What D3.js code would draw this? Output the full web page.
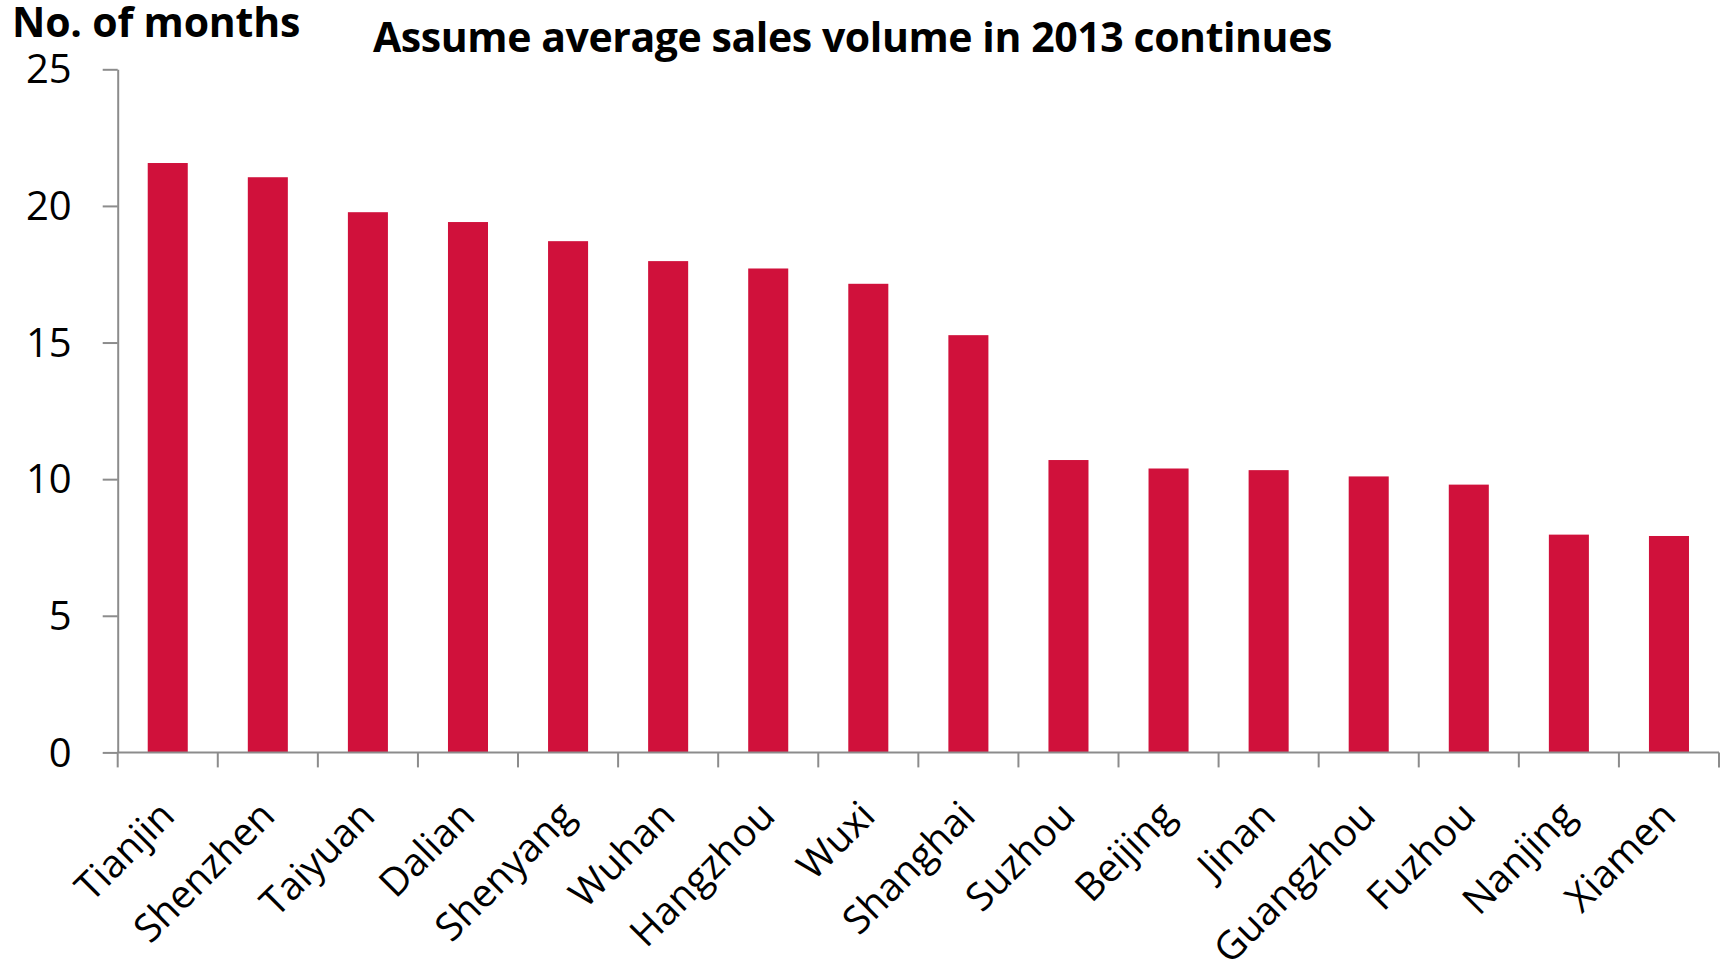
<!DOCTYPE html>
<html>
<head>
<meta charset="utf-8">
<script src="https://cdn.jsdelivr.net/npm/d3@7"></script>
<style>
  html, body { margin: 0; padding: 0; background: #fff; }
  svg { display: block; }
  text { font-family: "Open Sans", "Noto Sans", sans-serif; fill: #000; }
</style>
</head>
<body>
<svg id="chart" width="1725" height="963"></svg>
<script>
// Months of unsold housing stock per city at the 2013 average sales pace
const cities = ["Tianjin", "Shenzhen", "Taiyuan", "Dalian", "Shenyang", "Wuhan",
  "Hangzhou", "Wuxi", "Shanghai", "Suzhou", "Beijing", "Jinan",
  "Guangzhou", "Fuzhou", "Nanjing", "Xiamen"];
const months = [21.57, 21.05, 19.77, 19.41, 18.71, 17.98, 17.71, 17.15, 15.27,
  10.70, 10.39, 10.33, 10.10, 9.80, 7.97, 7.92];
const yTicks = [0, 5, 10, 15, 20, 25];
const titleText = "Assume average sales volume in 2013 continues";
const yLabelText = "No. of months";

const svg = d3.select("#chart");
const plotLeft = 117.7, plotRight = 1719, plotTop = 69.3, plotBottom = 752.4;
const axisColor = "#8c8c8c";
const barColor = "#D0113B";

const x = d3.scaleBand().domain(cities).range([plotLeft, plotRight])
  .paddingInner(0.6).paddingOuter(0.3);
const y = d3.scaleLinear().domain([0, 25]).range([plotBottom, plotTop]);

// bars
svg.append("g").selectAll("rect")
  .data(cities.map((c, i) => ({ c, v: months[i] })))
  .join("rect")
  .attr("x", d => x(d.c))
  .attr("width", x.bandwidth())
  .attr("y", d => y(d.v))
  .attr("height", d => y(0) - y(d.v))
  .attr("fill", barColor);

// y axis
const yAxis = svg.append("g")
  .attr("transform", `translate(${plotLeft},0)`)
  .call(d3.axisLeft(y).tickValues(yTicks).tickSize(15).tickSizeOuter(0).tickPadding(31)
    .tickFormat(d3.format("d")));
yAxis.selectAll("path, line").attr("stroke", axisColor).attr("stroke-width", 2);
yAxis.selectAll("text")
  .style("font-size", "40px")
  .attr("fill", "#000")
  .attr("dy", "0.34em");

// x axis baseline and category boundary ticks
const xAxis = svg.append("g");
xAxis.append("line")
  .attr("x1", plotLeft).attr("x2", plotRight)
  .attr("y1", plotBottom).attr("y2", plotBottom)
  .attr("stroke", axisColor).attr("stroke-width", 2);
const bounds = d3.range(cities.length + 1).map(i => x.range()[0] + i * x.step());
xAxis.selectAll("line.tick")
  .data(bounds)
  .join("line")
  .attr("class", "tick")
  .attr("x1", d => d).attr("x2", d => d)
  .attr("y1", plotBottom).attr("y2", plotBottom + 15)
  .attr("stroke", axisColor).attr("stroke-width", 2);

// rotated category labels
xAxis.selectAll("text")
  .data(cities)
  .join("text")
  .attr("text-anchor", "end")
  .attr("transform", d => `translate(${x(d) + x.bandwidth() / 2 + 9},818) rotate(-45)`)
  .style("font-size", "39px")
  .text(d => d);

// axis unit label and title
svg.append("text")
  .attr("x", 12).attr("y", 37.3)
  .style("font-size", "41px").style("font-weight", 700)
  .style("letter-spacing", "-0.2px")
  .text(yLabelText);

svg.append("text")
  .attr("x", 373).attr("y", 52.3)
  .style("font-size", "41px").style("font-weight", 700)
  .style("letter-spacing", "-0.42px")
  .text(titleText);
</script>
</body>
</html>
